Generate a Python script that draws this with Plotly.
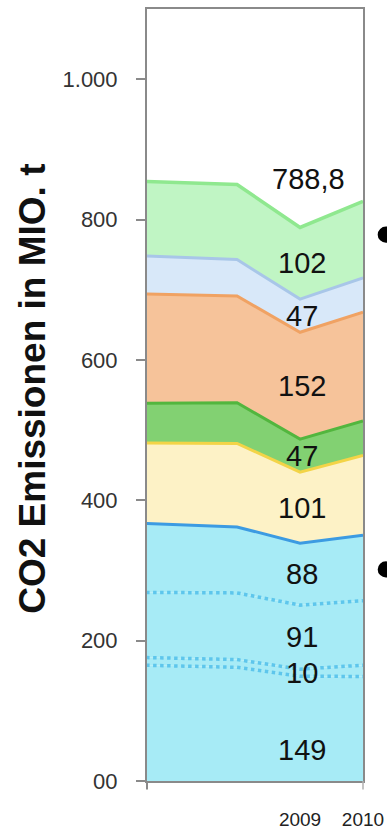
import plotly.graph_objects as go

# Years on the x axis (the first point sits just left of the visible window)
years = [2006, 2008, 2009, 2010]

# Stacked CO2 emission layers in Mio. t, bottom to top
layer_a = [166.0, 162.0, 149.2, 149.0]
layer_b = [11.0, 11.0, 10.2, 16.0]
layer_c = [92.0, 95.0, 91.2, 92.0]
layer_d = [100.0, 94.0, 88.2, 93.0]
layer_e = [113.0, 119.0, 101.2, 114.0]
layer_f = [56.0, 58.0, 47.2, 49.0]
layer_g = [157.0, 152.0, 152.2, 155.0]
layer_h = [55.0, 52.0, 47.2, 49.0]
layer_i = [106.0, 107.0, 102.2, 109.0]

y_tick_vals = [0, 200, 400, 600, 800, 1000]
y_tick_text = ["00", "200", "400", "600", "800", "1.000"]
x_tick_vals = [2009, 2010]
x_tick_text = ["2009", "2010"]
label_year = 2009

layers = [layer_a, layer_b, layer_c, layer_d, layer_e, layer_f, layer_g, layer_h, layer_i]
fills = ["#a7ebf6", "#a7ebf6", "#a7ebf6", "#a7ebf6", "#fdf2c6",
         "#82d172", "#f6c39a", "#d8e8f9", "#c0f5c4"]
lines = ["#5ec6ec", "#5ec6ec", "#5ec6ec", "#3c9be2", "#f3d447",
         "#52b63e", "#f0a263", "#a8c6e8", "#8fe88f"]
dashes = ["dot", "dot", "dot", "solid", "solid", "solid", "solid", "solid", "solid"]
widths = [3.5, 3.5, 3.5, 3, 3, 3, 3, 3, 3.5]

FONT = "Liberation Sans, Arial, Helvetica, sans-serif"

fig = go.Figure()
for vals, fc, lc, ds, lw in zip(layers, fills, lines, dashes, widths):
    fig.add_trace(go.Scatter(
        x=years, y=vals, mode="lines", stackgroup="co2",
        fillcolor=fc, line=dict(color=lc, width=lw, dash=ds),
        hoverinfo="skip", showlegend=False,
    ))

# value labels inside each band at 2009
idx = years.index(label_year)
base = 0.0
annotations = []
for n, vals in enumerate(layers):
    v = vals[idx]
    share = 0.3 if n == 0 else 0.5
    annotations.append(dict(
        x=label_year, y=base + v * share, xref="x", yref="y",
        text=str(round(v)), showarrow=False, xshift=2,
        font=dict(family=FONT, size=29, color="#111111"),
    ))
    base += v

total = base
annotations.append(dict(
    x=label_year, y=total, xref="x", yref="y",
    text=f"{total:.1f}".replace(".", ","), showarrow=False,
    yanchor="bottom", yshift=30, xshift=8,
    font=dict(family=FONT, size=29, color="#111111"),
))

# vertical axis title
annotations.append(dict(
    x=-0.528, y=0.508, xref="paper", yref="paper",
    text="<b>CO2 Emissionen in MIO. t</b>", textangle=-90,
    showarrow=False, xanchor="center", yanchor="middle",
    font=dict(family=FONT, size=37, color="#111111"),
))

fig.update_layout(
    width=387, height=830,
    margin=dict(l=147, r=24, t=9, b=49, autoexpand=False),
    paper_bgcolor="white", plot_bgcolor="white",
    annotations=annotations,
    shapes=[
        # small tick stubs below the frame corners
        dict(type="line", xref="paper", yref="paper", x0=0, x1=0, y0=0, y1=-0.011,
             line=dict(color="#8a8a8a", width=2)),
        dict(type="line", xref="paper", yref="paper", x0=1, x1=1, y0=0, y1=-0.011,
             line=dict(color="#b0b0b0", width=1.5)),
        # bullet points at the right edge
        dict(type="circle", xref="paper", yref="y", x0=1.068, x1=1.145, y0=767, y1=790,
             fillcolor="#000000", line=dict(width=0)),
        dict(type="circle", xref="paper", yref="y", x0=1.068, x1=1.145, y0=290, y1=313,
             fillcolor="#000000", line=dict(width=0)),
    ],
    xaxis=dict(
        range=[2006.57, 2010], tickvals=x_tick_vals, ticktext=x_tick_text,
        ticks="", showgrid=False, zeroline=False, automargin=False,
        showline=True, linecolor="#8a8a8a", linewidth=2, mirror=True,
        ticklabelstandoff=20,
        tickfont=dict(family=FONT, size=19, color="#222222"),
    ),
    yaxis=dict(
        range=[0, 1100], tickvals=y_tick_vals, ticktext=y_tick_text,
        ticks="outside", ticklen=9, tickwidth=1.5, tickcolor="#8a8a8a",
        showgrid=False, zeroline=False, automargin=False,
        showline=True, linecolor="#8a8a8a", linewidth=2, mirror=True,
        ticklabelstandoff=14,
        tickfont=dict(family=FONT, size=22, color="#333333"),
    ),
)

fig.write_html("out.html")
